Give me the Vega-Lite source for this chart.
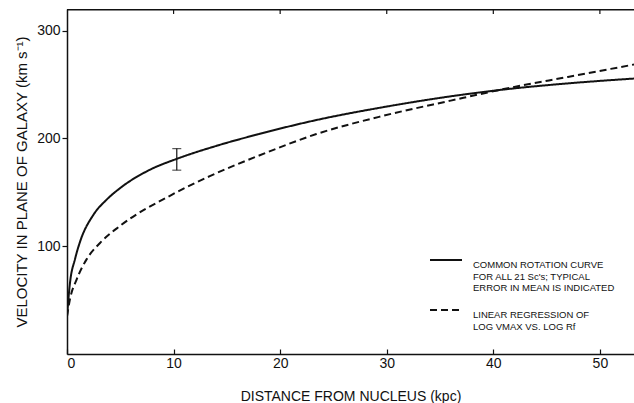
{
  "$schema": "https://vega.github.io/schema/vega-lite/v6.json",
  "width": 567,
  "height": 345,
  "autosize": {"type": "none"},
  "padding": {"left": 67, "top": 9, "right": 0, "bottom": 49},
  "config": {
    "view": {"stroke": null},
    "font": "Liberation Sans",
    "axis": {
      "domainColor": "#111",
      "domainWidth": 1.5,
      "tickColor": "#111",
      "tickWidth": 1.2,
      "labelColor": "#111",
      "labelFont": "Liberation Sans",
      "labelFontSize": 14,
      "titleColor": "#111",
      "titleFont": "Liberation Sans",
      "titleFontWeight": "normal",
      "grid": false
    }
  },
  "layer": [
    {
      "data": {
        "values": [
          {"series": "common", "r": 0, "v": 35},
          {"series": "common", "r": 0.28, "v": 66},
          {"series": "common", "r": 0.75, "v": 88},
          {"series": "common", "r": 1.22, "v": 104},
          {"series": "common", "r": 2.47, "v": 129},
          {"series": "common", "r": 3.7, "v": 143},
          {"series": "common", "r": 5, "v": 154},
          {"series": "common", "r": 7.8, "v": 171},
          {"series": "common", "r": 10.3, "v": 181},
          {"series": "common", "r": 14, "v": 193},
          {"series": "common", "r": 18, "v": 204},
          {"series": "common", "r": 23.4, "v": 217},
          {"series": "common", "r": 29.7, "v": 229},
          {"series": "common", "r": 36, "v": 239},
          {"series": "common", "r": 41.6, "v": 246},
          {"series": "common", "r": 47, "v": 251},
          {"series": "common", "r": 53.2, "v": 255.5},
          {"series": "regression", "r": 0, "v": 35},
          {"series": "regression", "r": 0.28, "v": 51},
          {"series": "regression", "r": 0.9, "v": 69},
          {"series": "regression", "r": 1.85, "v": 88},
          {"series": "regression", "r": 3.1, "v": 103},
          {"series": "regression", "r": 5, "v": 119},
          {"series": "regression", "r": 9.7, "v": 147},
          {"series": "regression", "r": 13.4, "v": 165},
          {"series": "regression", "r": 18, "v": 184},
          {"series": "regression", "r": 23.4, "v": 204},
          {"series": "regression", "r": 29.7, "v": 221},
          {"series": "regression", "r": 36, "v": 235},
          {"series": "regression", "r": 41.6, "v": 247},
          {"series": "regression", "r": 47, "v": 257},
          {"series": "regression", "r": 53.2, "v": 268.5}
        ]
      },
      "mark": {"type": "line", "interpolate": "monotone", "color": "#111", "strokeWidth": 2, "clip": true},
      "encoding": {
        "x": {
          "field": "r", "type": "quantitative",
          "scale": {"domain": [0, 53.2], "nice": false, "zero": false},
          "axis": {
            "orient": "bottom", "values": [0, 10, 20, 30, 40, 50],
            "tickSize": -5, "labelPadding": 7,
            "title": "DISTANCE FROM NUCLEUS (kpc)", "titleFontSize": 14, "titlePadding": 19
          }
        },
        "y": {
          "field": "v", "type": "quantitative",
          "scale": {"domain": [0, 320], "nice": false},
          "axis": {
            "values": [100, 200, 300], "tickSize": 5, "labelPadding": 2,
            "title": "VELOCITY IN PLANE OF GALAXY (km s⁻¹)", "titleFontSize": 15, "titlePadding": 7
          }
        },
        "strokeDash": {
          "field": "series", "type": "nominal",
          "scale": {"domain": ["common", "regression"], "range": [[1, 0], [7, 4]]},
          "legend": {
            "orient": "none", "legendX": 362, "legendY": 234,
            "title": null,
            "symbolType": "stroke", "symbolSize": 1024, "symbolStrokeWidth": 2,
            "symbolStrokeColor": "#111",
            "labelFont": "Liberation Sans", "labelFontSize": 9.5, "labelColor": "#111",
            "labelLineHeight": 9.7, "labelBaseline": "top", "labelLimit": 0, "labelOffset": 10,
            "rowPadding": 0,
            "labelExpr": "datum.value == 'common' ? ['COMMON ROTATION CURVE', 'FOR ALL 21 Sc\\'s; TYPICAL', 'ERROR IN MEAN IS INDICATED'] : ['LINEAR REGRESSION OF', 'LOG VMAX VS. LOG Rf']"
          }
        }
      }
    },
    {
      "data": {"values": [{"a": 0, "b": 53.2, "lo": 318.6, "hi": 320}]},
      "mark": {"type": "rect", "color": "#111"},
      "encoding": {
        "x": {"field": "a", "type": "quantitative"},
        "x2": {"field": "b"},
        "y": {"field": "lo", "type": "quantitative"},
        "y2": {"field": "hi"}
      }
    },
    {
      "data": {"values": [
        {"r": 10, "lo": 315.4, "hi": 320},
        {"r": 20, "lo": 315.4, "hi": 320},
        {"r": 30, "lo": 315.4, "hi": 320},
        {"r": 40, "lo": 315.4, "hi": 320},
        {"r": 50, "lo": 315.4, "hi": 320}
      ]},
      "mark": {"type": "rule", "color": "#111", "strokeWidth": 1.2},
      "encoding": {
        "x": {"field": "r", "type": "quantitative"},
        "y": {"field": "lo", "type": "quantitative"},
        "y2": {"field": "hi"}
      }
    },
    {
      "data": {"values": [{"r": 10.3, "lo": 170.5, "hi": 190.5}]},
      "mark": {"type": "rule", "color": "#111", "strokeWidth": 1.2},
      "encoding": {
        "x": {"field": "r", "type": "quantitative"},
        "y": {"field": "lo", "type": "quantitative"},
        "y2": {"field": "hi"}
      }
    },
    {
      "data": {"values": [{"r": 10.3, "end": 170.5}, {"r": 10.3, "end": 190.5}]},
      "mark": {"type": "tick", "orient": "horizontal", "color": "#111", "size": 9, "thickness": 1.2},
      "encoding": {
        "x": {"field": "r", "type": "quantitative"},
        "y": {"field": "end", "type": "quantitative"}
      }
    }
  ]
}
